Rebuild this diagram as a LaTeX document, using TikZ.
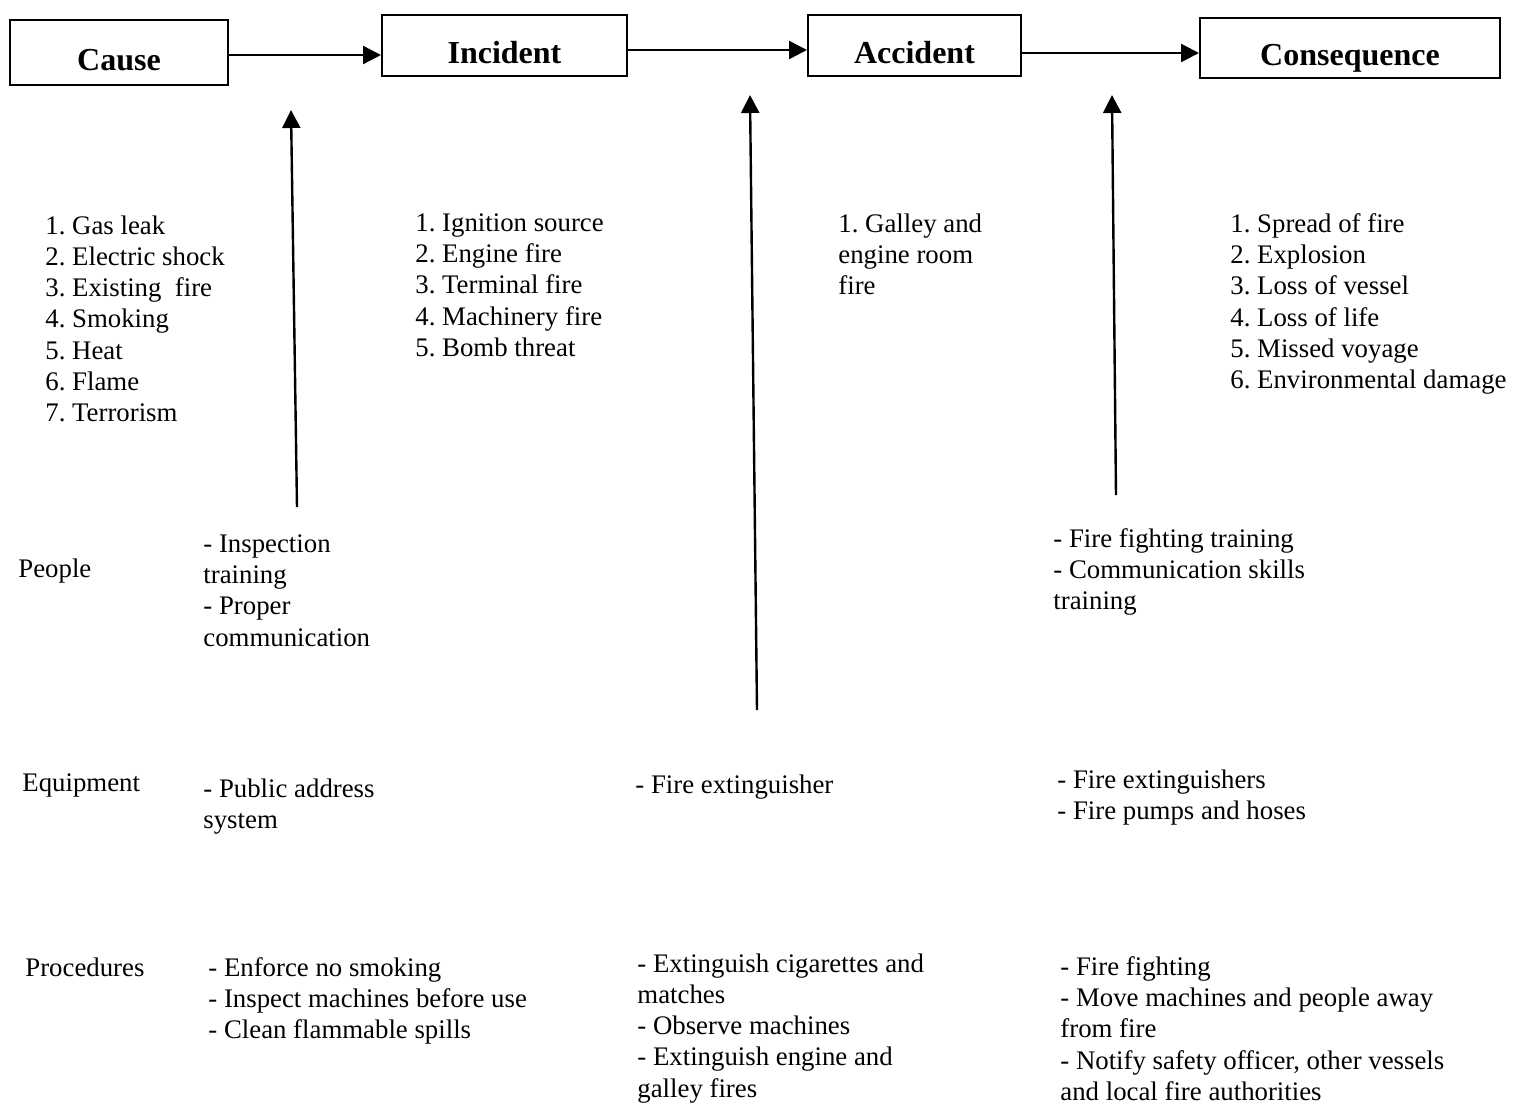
\documentclass[tikz,border=0pt]{standalone}
\usepackage{fontspec}
\setmainfont{Liberation Serif}
\usetikzlibrary{arrows.meta}
\frenchspacing

\tikzset{
  stagebox/.style={draw, line width=1pt, rectangle, inner sep=0pt, text height=17.5pt, text depth=0pt,
    font=\fontsize{16}{19}\selectfont\bfseries},
  arr/.style={-{Triangle[length=9pt,width=9pt]}, line width=1.2pt},
  item/.style={anchor=north west, align=left, inner sep=0pt,
    font=\fontsize{13.4}{15.65}\selectfont},
  rowlabel/.style={anchor=west, inner sep=0pt, font=\fontsize{13.4}{15.65}\selectfont}
}

\begin{document}
\begin{tikzpicture}[x=0.5pt, y=-0.5pt]
        \useasboundingbox (0,0) rectangle (1517,1104);

        % stages
        \node[stagebox, minimum width=109pt, minimum height=32.5pt] (cause) at (119,52.5) {Cause};
        \node[stagebox, minimum width=122.5pt, minimum height=30.5pt] (incident) at (504.5,45.5) {Incident};
        \node[stagebox, minimum width=106.5pt, minimum height=30.5pt] (accident) at (914.5,45.5) {Accident};
        \node[stagebox, minimum width=150pt, minimum height=30pt] (consequence) at (1350,48) {Consequence};

        \draw[arr] (cause.east |- 0,55) -- (incident.west |- 0,55);
        \draw[arr] (incident.east |- 0,50) -- (accident.west |- 0,50);
        \draw[arr] (accident.east |- 0,53) -- (consequence.west |- 0,53);

        % barrier arrows
        \coordinate (b1) at (297,507);
        \coordinate (t1) at (291,110);
        \coordinate (b2) at (757,710);
        \coordinate (t2) at (750,95);
        \coordinate (b3) at (1116,495);
        \coordinate (t3) at (1112,95);
        \draw[arr] (b1) -- (t1);
        \draw[arr] (b2) -- (t2);
        \draw[arr] (b3) -- (t3);

        % lists
        \node[item] (causes) at (45,215) {1. Gas leak\\2. Electric shock\\3. Existing\ \ fire\\4. Smoking\\5. Heat\\6. Flame\\7. Terrorism};
        \node[item] (incidents) at (415,213) {1. Ignition source\\2. Engine fire\\3. Terminal fire\\4. Machinery fire\\5. Bomb threat};
        \node[item] (accidents) at (838,213) {1. Galley and\\engine room\\fire};
        \node[item] (consequences) at (1230,213) {1. Spread of fire\\2. Explosion\\3. Loss of vessel\\4. Loss of life\\5. Missed voyage\\6. Environmental damage};

        % rows
        \node[rowlabel] (people) at (18,571) {People};
        \node[rowlabel] (equipment) at (22,785) {Equipment};
        \node[rowlabel] (procedures) at (25,967) {Procedures};

        \node[item] (people1) at (203,534) {- Inspection\\training\\- Proper\\communication};
        \node[item] (people3) at (1053,528) {- Fire fighting training\\- Communication skills\\training};

        \node[item] (equip1) at (203,778) {- Public address\\system};
        \node[item] (equip2) at (635,774) {- Fire extinguisher};
        \node[item] (equip3) at (1057,769) {- Fire extinguishers\\- Fire pumps and hoses};

        \node[item] (proc1) at (208,957) {- Enforce no smoking\\- Inspect machines before use\\- Clean flammable spills};
        \node[item] (proc2) at (637,953) {- Extinguish cigarettes and\\matches\\- Observe machines\\- Extinguish engine and\\galley fires};
        \node[item] (proc3) at (1060,956) {- Fire fighting\\- Move machines and people away\\from fire\\- Notify safety officer, other vessels\\and local fire authorities};
\end{tikzpicture}
\end{document}
